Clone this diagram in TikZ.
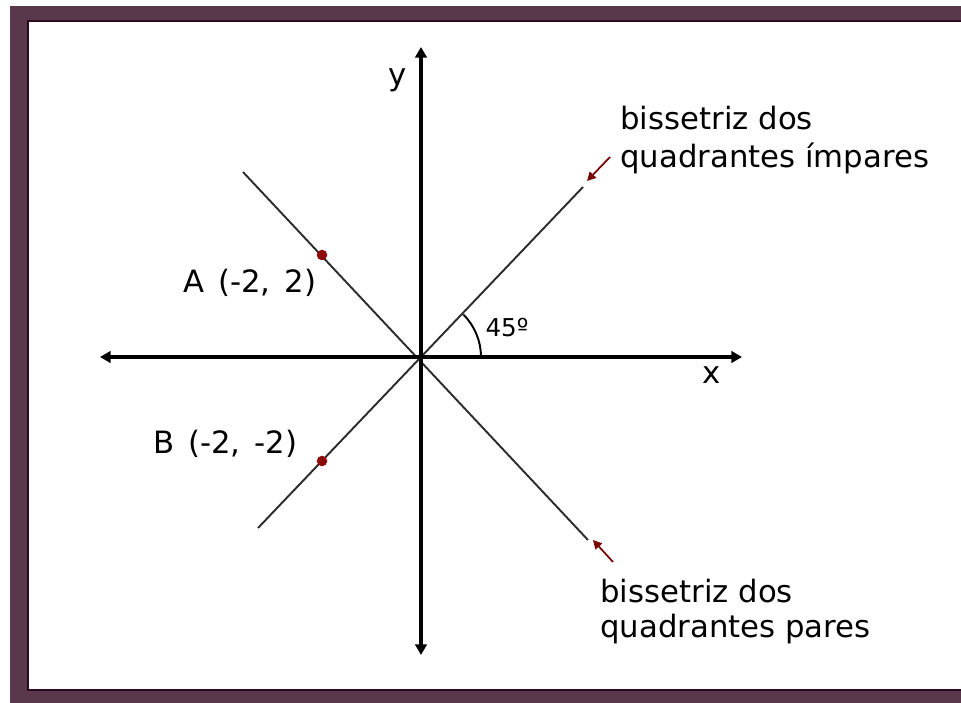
\documentclass[tikz,border=0pt]{standalone}
\usepackage{fontspec}
\setmainfont{DejaVu Sans}
\usetikzlibrary{arrows.meta}
\definecolor{framepurple}{RGB}{90,56,76}
\definecolor{framedark}{RGB}{45,8,28}
\definecolor{dotred}{RGB}{140,10,10}
\definecolor{linegray}{RGB}{45,45,45}

\begin{document}
\begin{tikzpicture}[x=0.02cm,y=-0.02cm]
\tikzset{axis/.style={line width=1.8pt,{Triangle[length=6pt,width=6.5pt]}-{Triangle[length=6pt,width=6.5pt]}},
  bisec/.style={line width=1.1pt,draw=linegray},
  lbl/.style={font=\fontsize{17.5}{21.5}\selectfont,inner sep=0pt,align=left},
  dot/.style={circle,fill=dotred,inner sep=0pt,minimum size=6pt},
  pointer/.style={draw=dotred!85!black,line width=1pt,-{Triangle[length=5pt,width=5pt]}}}
\useasboundingbox (0,0) rectangle (961,703);
\fill[framepurple] (10,6) rectangle (961,703);
\filldraw[fill=white,draw=framedark,line width=1.7pt] (28,21) rectangle (975,690);
\coordinate (O) at (421,357);
\coordinate (xl) at (100,357);
\coordinate (xr) at (742,357);
\coordinate (yt) at (421,47);
\coordinate (yb) at (421,655);
\coordinate (i1) at (258,528);
\coordinate (i2) at (583,187);
\coordinate (p1) at (243,172);
\coordinate (p2) at (588,540);
\draw[bisec] (i1) -- (i2);
\draw[bisec] (p1) -- (p2);
\draw[axis] (xl) -- (xr);
\draw[axis] (yb) -- (yt);
\fill (O) circle (1.6pt);
\draw[line width=1.1pt] ([xshift=1.2cm]O) arc[start angle=0,end angle=45,radius=1.2cm];
\node[font=\fontsize{14}{16}\selectfont,inner sep=0pt] (ang) at (507,328) {45º};
\node[lbl] (ylab) at (398,80) {y};
\node[lbl] (xlab) at (712,375) {x};
\node[dot] (A) at (322,255) {};
\node[dot] (B) at (322,461) {};
\node[lbl,anchor=base west] (Alab) at (183,292) {A\hspace{0.45em}(-2,\hspace{0.45em}2)};
\node[lbl,anchor=base west] (Blab) at (153,453) {B\hspace{0.45em}(-2,\hspace{0.45em}-2)};
\node[lbl,anchor=base west] (impar) at (620,167) {bissetriz dos\\quadrantes ímpares};
\node[lbl,font=\fontsize{17.5}{19.5}\selectfont,anchor=base west] (par) at (600,637) {bissetriz dos\\quadrantes pares};
\coordinate (t1) at (610,157);
\coordinate (t2) at (587,181);
\coordinate (b1) at (613,562);
\coordinate (b2) at (593,540);
\draw[pointer] (t1) -- (t2);
\draw[pointer] (b1) -- (b2);
\end{tikzpicture}
\end{document}
